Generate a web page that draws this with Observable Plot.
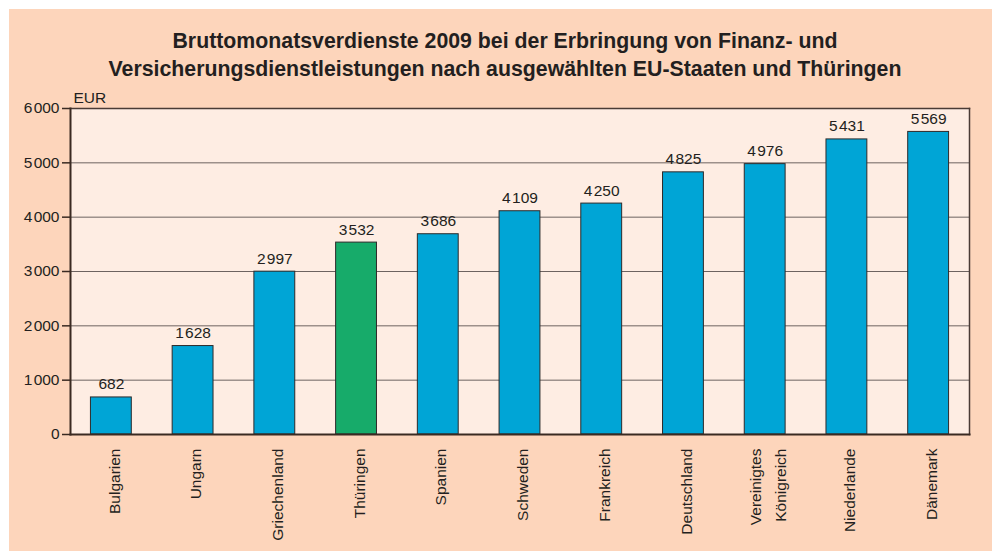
<!DOCTYPE html>
<html>
<head>
<meta charset="utf-8">
<script src="https://cdn.jsdelivr.net/npm/d3@7"></script>
<script src="https://cdn.jsdelivr.net/npm/@observablehq/plot@0.6"></script>
<style>
  html, body { margin: 0; padding: 0; background: #fff; }
  body { width: 992px; height: 551px; overflow: hidden; position: relative; font-family: "Liberation Sans", Arial, sans-serif; }
  #bg { position: absolute; left: 9px; top: 9px; width: 983px; height: 542px; background: #fdd5bb; }
  #title { position: absolute; left: 9px; top: 27px; width: 992px; text-align: center; font-weight: bold; font-size: 21.3px; line-height: 28px; color: #231f20; }
  #chart { position: absolute; left: 0; top: 85px; }
</style>
</head>
<body>
<div id="bg"></div>
<div id="title">Bruttomonatsverdienste 2009 bei der Erbringung von Finanz- und<br>Versicherungsdienstleistungen nach ausgewählten EU-Staaten und Thüringen</div>
<div id="chart"></div>
<script>
const countries = ["Bulgarien", "Ungarn", "Griechenland", "Thüringen", "Spanien", "Schweden", "Frankreich", "Deutschland", "Vereinigtes\nKönigreich", "Niederlande", "Dänemark"];
const values = [682, 1628, 2997, 3532, 3686, 4109, 4250, 4825, 4976, 5431, 5569];
const highlight = "Thüringen";
const yTicks = [0, 1000, 2000, 3000, 4000, 5000, 6000];
const unitLabel = "EUR";

const data = countries.map((c, i) => ({country: c, value: values[i]}));
const fmt = v => v >= 1000 ? d3.format(",")(v).replace(",", "\u200A") : String(v);

const chart = Plot.plot({
  width: 992,
  height: 466,
  marginLeft: 70,
  marginRight: 23,
  marginTop: 23,
  marginBottom: 117,
  style: {background: "transparent", fontFamily: "Liberation Sans, Arial, sans-serif", fontSize: "15.5px", color: "#231f20"},
  x: {domain: countries, paddingInner: 0.5, paddingOuter: 0.25, round: false, label: null},
  y: {domain: [0, 6000], label: null},
  marks: [
    Plot.frame({fill: "#feede3", stroke: null}),
    Plot.gridY(yTicks, {stroke: "#6d6360", strokeOpacity: 1, strokeWidth: 1}),
    Plot.barY(data, {x: "country", y: "value", fill: d => d.country === highlight ? "#17ab6a" : "#00a5d6", stroke: "#2d2a2a", strokeWidth: 1}),
    Plot.text(data, {x: "country", y: "value", text: d => fmt(d.value), dy: -13, fontSize: 15.5, fill: "#231f20"}),
    Plot.frame({anchor: "top", stroke: "#4a3b35", strokeWidth: 1.5}),
    Plot.frame({anchor: "right", stroke: "#4a3b35", strokeWidth: 1.5}),
    Plot.axisY({ticks: yTicks, tickFormat: fmt, tickSize: 8, tickPadding: 3, stroke: "#3a2a22", strokeWidth: 1.5, fill: "#231f20"}),
    Plot.axisX({tickRotate: -90, tickSize: 0, tickPadding: 14, lineHeight: 1.65, fill: "#231f20"}),
    Plot.frame({anchor: "bottom", stroke: "#3a2a22", strokeWidth: 2}),
    Plot.frame({anchor: "left", stroke: "#3a2a22", strokeWidth: 2}),
    Plot.text([unitLabel], {frameAnchor: "top-left", dx: 3, dy: -17, textAnchor: "start", fill: "#231f20"})
  ]
});
document.getElementById("chart").appendChild(chart);
</script>
</body>
</html>
